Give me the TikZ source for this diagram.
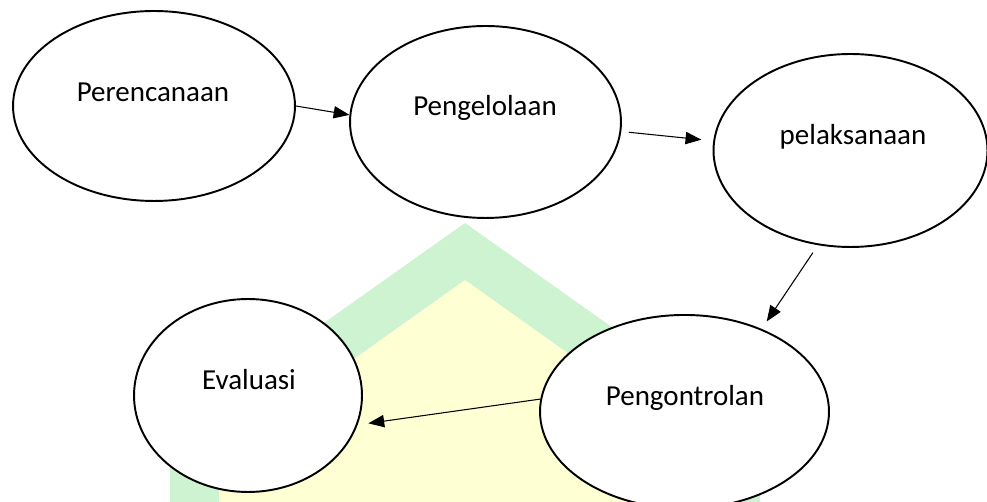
\documentclass[tikz,border=0pt]{standalone}
\usepackage{fontspec}
\setmainfont{Carlito}
\usetikzlibrary{shapes.geometric,arrows.meta}

\definecolor{wmgreen}{RGB}{206,243,208}
\definecolor{wmyellow}{RGB}{255,255,212}

\begin{document}
\begin{tikzpicture}[x=0.02cm, y=-0.02cm,
        stage/.style={draw, ellipse, fill=white, line width=1.1pt, inner sep=0pt},
        stagetext/.style={anchor=base, inner sep=0pt, font=\fontsize{16.5}{20}\selectfont},
        flow/.style={-{Triangle[length=9pt,width=7pt]}, line width=0.6pt}]
        \useasboundingbox (0,0) rectangle (987,502);

        % watermark
        \fill[wmgreen] (465,223) -- (170,432) -- (170,502) -- (760,502) -- (760,432) -- cycle;
        \fill[wmyellow] (465,280) -- (219,455) -- (219,502) -- (711,502) -- (711,455) -- cycle;

        \node[stage, minimum width=5.64cm, minimum height=3.8cm] (plan) at (154,106) {};
        \node[stage, minimum width=5.42cm, minimum height=3.84cm] (kelola) at (485.5,122) {};
        \node[stage, minimum width=5.48cm, minimum height=3.86cm] (laksana) at (850.5,150.5) {};
        \node[stage, minimum width=4.56cm, minimum height=3.86cm] (evaluasi) at (248,395.5) {};
        \node[stage, minimum width=5.78cm, minimum height=3.87cm] (kontrol) at (684.5,411.7) {};

        \node[stagetext] (planText) at (153,102) {Perencanaan};
        \node[stagetext] (kelolaText) at (485,116) {Pengelolaan};
        \node[stagetext] (laksanaText) at (853,145) {pelaksanaan};
        \node[stagetext] (evaluasiText) at (249,390) {Evaluasi};
        \node[stagetext] (kontrolText) at (685,406) {Pengontrolan};

        \draw[flow] (plan.-0.4) -- (kelola.177.9);
        \draw[flow, shorten <=4.3pt, shorten >=6.8pt] (kelola.-4) -- (laksana.176.7);
        \draw[flow, shorten <=5.1pt, shorten >=5.1pt] (laksana.251.4) -- (kontrol.47);
        \draw[flow, shorten >=6.2pt] (kontrol.175.7) -- (evaluasi.-15.4);
    \end{tikzpicture}
\end{document}
